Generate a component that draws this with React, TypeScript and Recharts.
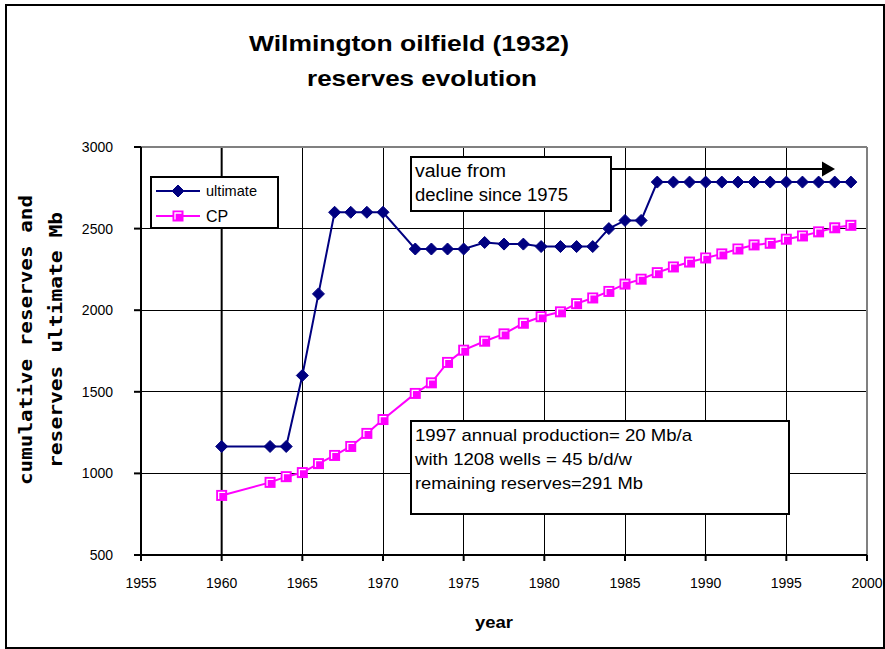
import React from 'react';
import {
  ComposedChart,
  Line,
  XAxis,
  YAxis,
  CartesianGrid,
  Legend,
  ReferenceLine,
} from 'recharts';

// Survey years (some mid-year revisions)
const years = [
  1960, 1963, 1964, 1965, 1966, 1967, 1968, 1969, 1970, 1972, 1973, 1974, 1975,
  1976.3, 1977.5, 1978.7, 1979.8, 1981, 1982, 1983, 1984, 1985, 1986, 1987,
  1988, 1989, 1990, 1991, 1992, 1993, 1994, 1995, 1996, 1997, 1998, 1999,
];

// Ultimate recovery estimate, Mb
const ultimate = [
  1165, 1165, 1165, 1600, 2100, 2600, 2600, 2600, 2600, 2375, 2375, 2375, 2375,
  2415, 2405, 2405, 2390, 2390, 2390, 2390, 2500, 2550, 2550, 2785, 2785, 2785,
  2785, 2785, 2785, 2785, 2785, 2785, 2785, 2785, 2785, 2785,
];

// Cumulative production, Mb
const cp = [
  865, 945, 980, 1005, 1060, 1110, 1165, 1245, 1330, 1490, 1555, 1680, 1755,
  1810, 1855, 1920, 1960, 1990, 2040, 2075, 2115, 2160, 2190, 2230, 2265, 2295,
  2320, 2345, 2375, 2400, 2410, 2435, 2455, 2480, 2505, 2520,
];

const xTicks = [1955, 1960, 1965, 1970, 1975, 1980, 1985, 1990, 1995, 2000];
const yTicks = [500, 1000, 1500, 2000, 2500, 3000];

const seriesNames = { ultimate: 'ultimate', cp: 'CP' };

const data = years.map((year, i) => ({ year, ultimate: ultimate[i], cp: cp[i] }));

const FONT = '"Liberation Sans", Arial, Helvetica, sans-serif';
const NAVY = '#000080';
const MAGENTA = '#FF00FF';

const Diamond = (props: any) => {
  const { cx, cy } = props;
  if (cx == null || cy == null) return null;
  const r = 6;
  return (
    <path
      d={`M${cx},${cy - r} L${cx + r},${cy} L${cx},${cy + r} L${cx - r},${cy} Z`}
      fill={NAVY}
      stroke={NAVY}
      strokeWidth={1}
    />
  );
};

const SquareMark = (props: any) => {
  const { cx, cy } = props;
  if (cx == null || cy == null) return null;
  const h = 5.5;
  return (
    <g>
      <rect x={cx - h} y={cy - h} width={h * 2} height={h * 2} fill={MAGENTA} />
      <polyline
        points={`${cx - 3},${cy + 3.5} ${cx - 3},${cy - 3} ${cx + 3.5},${cy - 3}`}
        fill="none"
        stroke="#ffffff"
        strokeWidth={1.3}
      />
    </g>
  );
};

const LegendBox = () => (
  <svg width={129} height={53} style={{ display: 'block' }}>
    <rect x={1} y={1} width={127} height={51} fill="#ffffff" stroke="#000" strokeWidth={2} />
    <line x1={6} y1={15} x2={50} y2={15} stroke={NAVY} strokeWidth={2} />
    <Diamond cx={28} cy={15} />
    <text x={56} y={20} fontSize={15} fontFamily={FONT} fill="#000" textLength={51} lengthAdjust="spacingAndGlyphs">
      {seriesNames.ultimate}
    </text>
    <line x1={6} y1={40} x2={50} y2={40} stroke={MAGENTA} strokeWidth={2} />
    <SquareMark cx={28} cy={40} />
    <text x={56} y={46} fontSize={16} fontFamily={FONT} fill="#000">
      {seriesNames.cp}
    </text>
  </svg>
);

export default function App() {
  return (
    <div style={{ position: 'absolute', left: 0, top: 0, width: 885, height: 649, background: '#fff' }}>
      <ComposedChart
        width={885}
        height={649}
        data={data}
        margin={{ top: 147, right: 18, left: 0, bottom: 0 }}
      >
        <CartesianGrid
          stroke="#000"
          strokeWidth={1}
          shapeRendering="crispEdges"
          verticalValues={xTicks}
          horizontalValues={yTicks}
        />
        <XAxis
          dataKey="year"
          type="number"
          domain={[1955, 2000]}
          ticks={xTicks}
          interval={0}
          height={94}
          axisLine={{ stroke: '#000', strokeWidth: 2 }}
          tickLine={{ stroke: '#000', strokeWidth: 2 }}
          tickSize={6}
          tickMargin={17}
          tick={{ fontSize: 14, fill: '#000', fontFamily: FONT }}
        />
        <YAxis
          type="number"
          domain={[500, 3000]}
          ticks={yTicks}
          interval={0}
          width={141}
          axisLine={{ stroke: '#000', strokeWidth: 2 }}
          tickLine={{ stroke: '#000', strokeWidth: 2 }}
          tickSize={7}
          tickMargin={21}
          tick={{ fontSize: 14, fill: '#000', fontFamily: FONT }}
        />
        <ReferenceLine x={1960} stroke="#000" strokeWidth={2} />
        <ReferenceLine y={3000} stroke="#808080" strokeWidth={2} />
        <ReferenceLine x={2000} stroke="#808080" strokeWidth={2} />
        <Line
          dataKey="ultimate"
          name={seriesNames.ultimate}
          stroke={NAVY}
          strokeWidth={2}
          dot={<Diamond />}
          activeDot={false}
          isAnimationActive={false}
        />
        <Line
          dataKey="cp"
          name={seriesNames.cp}
          stroke={MAGENTA}
          strokeWidth={2}
          dot={<SquareMark />}
          activeDot={false}
          isAnimationActive={false}
        />
        <Legend
          layout="vertical"
          align="center"
          verticalAlign="middle"
          content={() => <LegendBox />}
          wrapperStyle={{ position: 'absolute', left: 150, top: 176, width: 129, height: 53 }}
        />
      </ComposedChart>

      <svg
        width={885}
        height={649}
        style={{ position: 'absolute', left: 0, top: 0, pointerEvents: 'none' }}
      >
        {/* outer frame */}
        <rect x={6} y={5} width={878} height={643} fill="none" stroke="#000" strokeWidth={2} />

        {/* title */}
        <text x={249} y={51} fontSize={22} fontWeight="bold" fontFamily={FONT} fill="#000" textLength={320} lengthAdjust="spacingAndGlyphs">
          Wilmington oilfield (1932)
        </text>
        <text x={307} y={86} fontSize={22} fontWeight="bold" fontFamily={FONT} fill="#000" textLength={230} lengthAdjust="spacingAndGlyphs">
          reserves evolution
        </text>

        {/* axis titles */}
        <text x={475} y={628} fontSize={17} fontWeight="bold" fontFamily={FONT} fill="#000" textLength={38} lengthAdjust="spacingAndGlyphs">
          year
        </text>
        <g transform="translate(32,485) rotate(-90)">
          <text x={0} y={0} fontSize={18} fontWeight="bold" fontFamily='"DejaVu Sans Mono", monospace' fill="#000" textLength={290} lengthAdjust="spacingAndGlyphs">
            cumulative reserves and
          </text>
        </g>
        <g transform="translate(62,468) rotate(-90)">
          <text x={0} y={0} fontSize={18} fontWeight="bold" fontFamily='"DejaVu Sans Mono", monospace' fill="#000" textLength={256} lengthAdjust="spacingAndGlyphs">
            reserves ultimate Mb
          </text>
        </g>

        {/* note on the ultimate figure */}
        <line x1={611} y1={169} x2={824} y2={169} stroke="#000" strokeWidth={2} />
        <polygon points="822,161.5 835,169 822,176.5" fill="#000" />
        <rect x={411} y={157} width={200} height={54} fill="#fff" stroke="#000" strokeWidth={2} />
        <text x={415} y={177} fontSize={18} fontFamily={FONT} fill="#000" textLength={91} lengthAdjust="spacingAndGlyphs">
          value from
        </text>
        <text x={415} y={201} fontSize={18} fontFamily={FONT} fill="#000" textLength={153} lengthAdjust="spacingAndGlyphs">
          decline since 1975
        </text>

        {/* production note */}
        <rect x={411} y={421} width={378} height={93} fill="#fff" stroke="#000" strokeWidth={2} />
        <text x={415} y={441} fontSize={17} fontFamily={FONT} fill="#000" textLength={277} lengthAdjust="spacingAndGlyphs">
          1997 annual production= 20 Mb/a
        </text>
        <text x={415} y={465} fontSize={17} fontFamily={FONT} fill="#000" textLength={217} lengthAdjust="spacingAndGlyphs">
          with 1208 wells = 45 b/d/w
        </text>
        <text x={415} y={489} fontSize={17} fontFamily={FONT} fill="#000" textLength={228} lengthAdjust="spacingAndGlyphs">
          remaining reserves=291 Mb
        </text>
      </svg>
    </div>
  );
}
